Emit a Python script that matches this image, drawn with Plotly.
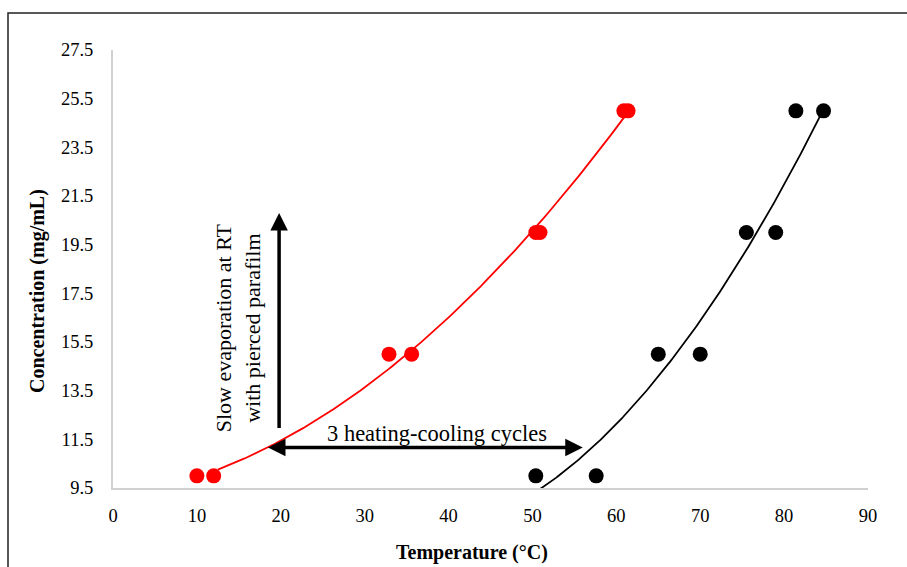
import numpy as np
import plotly.graph_objects as go

# Data
red_x = [10.0, 12.0, 32.9, 35.6, 50.4, 50.9, 60.9, 61.4]
red_y = [10, 10, 15, 15, 20, 20, 25, 25]
black_x = [50.4, 57.6, 65.0, 70.0, 75.5, 79.0, 81.4, 84.7]
black_y = [10, 10, 15, 15, 20, 20, 25, 25]

# Points read along the black trendline in the reference (used for a quadratic fit)
black_trend_x = [51.7, 56.1, 67.6, 76.5, 84.3]
black_trend_y = [9.5, 11.1, 15.0, 20.0, 24.75]

x_ticks = [0, 10, 20, 30, 40, 50, 60, 70, 80, 90]
y_ticks = [9.5, 11.5, 13.5, 15.5, 17.5, 19.5, 21.5, 23.5, 25.5, 27.5]

FONT = "Liberation Serif"

def trend(xs, ys, x0, x1):
    c = np.polyfit(xs, ys, 2)
    xx = np.linspace(x0, x1, 200)
    return xx, np.polyval(c, xx)

fig = go.Figure()
rx, ry = trend(red_x, red_y, 12.5, 61.3)
bx, by = trend(black_trend_x, black_trend_y, 50.4, 84.5)
fig.add_trace(go.Scatter(x=rx, y=ry, mode="lines", line=dict(color="#ff0000", width=1.8),
                         hoverinfo="skip", showlegend=False))
fig.add_trace(go.Scatter(x=bx, y=by, mode="lines", line=dict(color="#000000", width=1.8),
                         hoverinfo="skip", showlegend=False))
fig.add_trace(go.Scatter(x=red_x, y=red_y, mode="markers",
                         marker=dict(color="#ff0000", size=15), showlegend=False))
fig.add_trace(go.Scatter(x=black_x, y=black_y, mode="markers",
                         marker=dict(color="#000000", size=15), showlegend=False))

# Arrows
fig.add_annotation(x=19.8, y=20.8, ax=19.8, ay=11.9, xref="x", yref="y", axref="x", ayref="y",
                   showarrow=True, arrowhead=2, arrowsize=1, arrowwidth=3.5, arrowcolor="black", text="")
fig.add_annotation(x=56.0, y=11.16, ax=18.3, ay=11.16, xref="x", yref="y", axref="x", ayref="y",
                   showarrow=True, arrowhead=2, startarrowhead=2, arrowside="end+start",
                   arrowsize=1, startarrowsize=1, arrowwidth=3.5, arrowcolor="black", text="")

fig.add_annotation(x=15.0, y=16.1, xref="x", yref="y", showarrow=False, textangle=-90,
                   text="Slow evaporation at RT<br>with pierced parafilm",
                   font=dict(family=FONT, size=22, color="black"), align="center")
fig.add_annotation(x=38.6, y=11.75, xref="x", yref="y", showarrow=False, yanchor="middle",
                   text="3 heating-cooling cycles",
                   font=dict(family=FONT, size=22.5, color="black"))

# Axis titles (placed as in the reference)
fig.add_annotation(x=(472 - 113) / 755, y=(488 - 552) / 438, xref="paper", yref="paper",
                   xanchor="center", yanchor="middle",
                   showarrow=False, text="<b>Temperature (°C)</b>",
                   font=dict(family=FONT, size=20, color="black"))
fig.add_annotation(x=(37 - 113) / 755, y=(488 - 291) / 438, xref="paper", yref="paper",
                   xanchor="center", yanchor="middle",
                   showarrow=False, textangle=-90, text="<b>Concentration (mg/mL)</b>",
                   font=dict(family=FONT, size=20, color="black"))

# Outer border
fig.add_shape(type="rect", xref="paper", yref="paper",
              x0=(8 - 113) / 755, x1=(912 - 113) / 755,
              y0=(488 - 572) / 438, y1=(488 - 13) / 438,
              line=dict(color="#222222", width=1.5), fillcolor="rgba(0,0,0,0)")

fig.update_layout(
    width=907, height=567,
    margin=dict(l=113, r=39, t=50, b=79),
    paper_bgcolor="white", plot_bgcolor="white",
    font=dict(family=FONT, size=18, color="black"),
    xaxis=dict(range=[0, 90], tickvals=x_ticks, ticktext=[str(v) for v in x_ticks],
               showgrid=False, zeroline=False, showline=True, linecolor="#d0d0d0", linewidth=2,
               ticks="", ticklabelstandoff=10, tickfont=dict(size=18.5)),
    yaxis=dict(range=[9.5, 27.5], tickvals=y_ticks, ticktext=[str(v) for v in y_ticks],
               showgrid=False, zeroline=False, showline=True, linecolor="#d0d0d0", linewidth=2,
               ticks="", ticklabelstandoff=14, tickfont=dict(size=18.5)),
)

fig.write_html("out.html")
